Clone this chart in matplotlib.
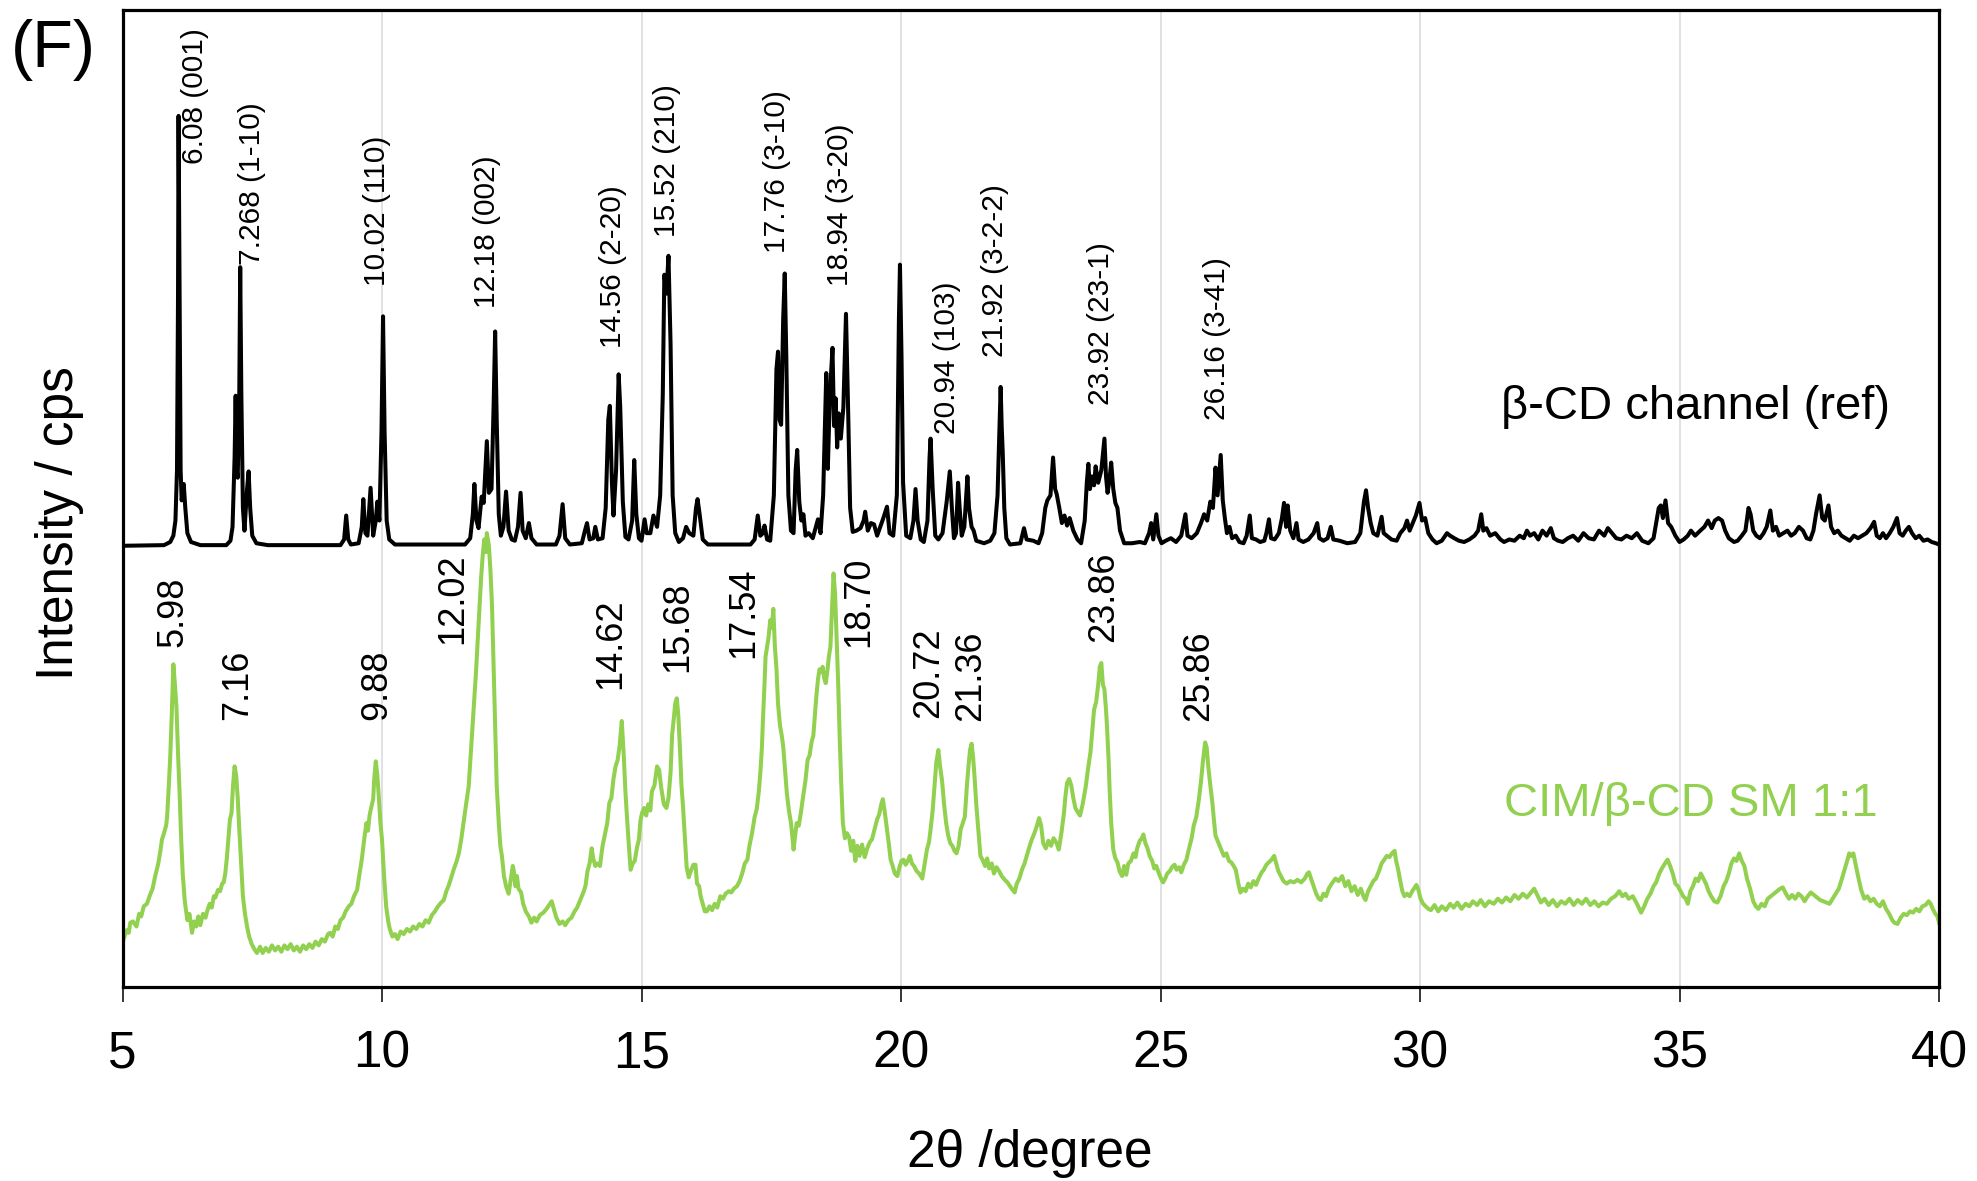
import matplotlib
matplotlib.use("Agg")
import matplotlib.pyplot as plt

plt.rcParams['font.family'] = ['Liberation Sans', 'DejaVu Sans']

# ---------------------------------------------------------------- data
# beta-CD channel reference pattern: (2theta, intensity above its own baseline)
bcd_pattern = [
    (5.00, 0), (5.80, 0.5), (5.92, 3), (5.98, 8), (6.02, 20), (6.05, 60), (6.07, 200),
    (6.08, 341), (6.10, 200), (6.12, 60), (6.14, 36), (6.18, 49), (6.21, 30), (6.25, 10),
    (6.32, 3), (6.50, 0.5), (7.00, 0.5), (7.08, 4), (7.12, 15), (7.16, 70), (7.18, 119),
    (7.20, 60), (7.22, 54), (7.25, 120), (7.268, 221), (7.29, 120), (7.32, 30), (7.35, 12),
    (7.40, 45), (7.43, 59), (7.46, 30), (7.50, 8), (7.58, 2), (7.80, 0.5), (9.20, 0.5),
    (9.27, 5), (9.31, 24), (9.35, 5), (9.40, 1), (9.55, 2), (9.61, 15), (9.64, 37),
    (9.68, 10), (9.72, 8), (9.78, 46), (9.83, 8), (9.88, 20), (9.91, 35), (9.95, 20),
    (9.99, 90), (10.02, 182), (10.05, 90), (10.09, 20), (10.14, 5), (10.25, 1), (11.60, 1),
    (11.70, 6), (11.75, 25), (11.78, 49), (11.82, 20), (11.86, 14), (11.92, 39), (11.96, 34),
    (12.02, 83), (12.06, 42), (12.11, 45), (12.15, 110), (12.18, 170), (12.21, 100),
    (12.25, 25), (12.29, 8), (12.34, 15), (12.39, 43), (12.44, 12), (12.50, 5), (12.56, 4),
    (12.62, 15), (12.67, 42), (12.71, 12), (12.77, 6), (12.83, 18), (12.88, 6), (12.98, 1),
    (13.35, 1), (13.42, 8), (13.48, 33), (13.53, 6), (13.62, 1), (13.85, 2), (13.91, 12),
    (13.95, 18), (14.00, 5), (14.07, 6), (14.11, 15), (14.16, 5), (14.25, 6), (14.31, 30),
    (14.36, 100), (14.39, 111), (14.43, 50), (14.46, 24), (14.51, 60), (14.56, 136),
    (14.59, 110), (14.64, 35), (14.69, 7), (14.75, 5), (14.82, 20), (14.86, 68), (14.90, 25),
    (14.95, 6), (15.00, 4), (15.06, 21), (15.10, 10), (15.17, 10), (15.23, 24), (15.30, 15),
    (15.36, 40), (15.41, 120), (15.44, 215), (15.48, 200), (15.52, 230), (15.56, 160),
    (15.60, 40), (15.65, 10), (15.72, 3), (15.80, 6), (15.86, 15), (15.92, 10), (16.00, 8),
    (16.05, 30), (16.08, 37), (16.12, 25), (16.18, 5), (16.28, 1), (17.10, 1), (17.18, 5),
    (17.24, 24), (17.29, 8), (17.34, 10), (17.37, 16), (17.42, 5), (17.48, 4), (17.55, 40),
    (17.60, 140), (17.63, 154), (17.66, 100), (17.69, 96), (17.73, 180), (17.76, 216),
    (17.79, 150), (17.83, 40), (17.88, 12), (17.93, 10), (17.97, 60), (18.00, 76),
    (18.04, 35), (18.08, 20), (18.12, 25), (18.16, 8), (18.22, 10), (18.30, 6), (18.36, 15),
    (18.40, 21), (18.45, 10), (18.50, 40), (18.56, 137), (18.59, 61), (18.63, 120),
    (18.68, 157), (18.71, 95), (18.74, 117), (18.77, 78), (18.80, 105), (18.84, 85),
    (18.89, 110), (18.94, 184), (18.98, 110), (19.02, 30), (19.07, 11), (19.14, 12),
    (19.22, 14), (19.28, 20), (19.31, 27), (19.36, 12), (19.42, 18), (19.48, 17), (19.54, 8),
    (19.60, 15), (19.66, 22), (19.73, 31), (19.78, 10), (19.85, 8), (19.92, 40),
    (19.96, 180), (19.98, 223), (20.01, 150), (20.04, 50), (20.10, 8), (20.18, 6),
    (20.24, 20), (20.28, 45), (20.32, 20), (20.38, 5), (20.44, 3), (20.51, 20), (20.55, 70),
    (20.57, 85), (20.61, 45), (20.66, 8), (20.72, 5), (20.80, 10), (20.88, 35), (20.94, 59),
    (20.98, 30), (21.02, 6), (21.06, 10), (21.10, 50), (21.13, 30), (21.17, 8), (21.22, 15),
    (21.28, 55), (21.31, 30), (21.36, 15), (21.40, 12), (21.45, 4), (21.60, 2), (21.72, 4),
    (21.80, 10), (21.86, 40), (21.92, 126), (21.94, 95), (21.96, 74), (21.99, 30),
    (22.03, 6), (22.10, 1), (22.30, 2), (22.37, 14), (22.42, 5), (22.55, 4), (22.65, 2),
    (22.72, 10), (22.78, 30), (22.82, 36), (22.88, 40), (22.93, 70), (22.97, 45), (23.00, 41),
    (23.05, 30), (23.10, 18), (23.15, 24), (23.20, 16), (23.25, 22), (23.32, 12), (23.40, 5),
    (23.47, 2), (23.54, 20), (23.58, 50), (23.61, 65), (23.64, 45), (23.68, 55), (23.72, 48),
    (23.75, 63), (23.80, 50), (23.86, 60), (23.92, 85), (23.95, 55), (23.98, 42), (24.01, 50),
    (24.05, 66), (24.09, 45), (24.13, 34), (24.17, 30), (24.22, 12), (24.30, 2), (24.45, 2),
    (24.60, 3), (24.70, 2), (24.78, 10), (24.82, 18), (24.86, 5), (24.92, 25), (24.96, 8),
    (25.02, 2), (25.10, 4), (25.20, 6), (25.30, 3), (25.40, 8), (25.48, 25), (25.52, 8),
    (25.60, 6), (25.70, 10), (25.78, 18), (25.84, 25), (25.90, 20), (25.96, 35), (26.01, 30),
    (26.06, 62), (26.10, 40), (26.16, 72), (26.20, 36), (26.24, 22), (26.28, 10), (26.33, 15),
    (26.38, 6), (26.45, 8), (26.52, 3), (26.60, 2), (26.66, 8), (26.72, 24), (26.76, 6),
    (26.84, 5), (26.92, 3), (27.00, 4), (27.04, 10), (27.09, 21), (27.13, 6), (27.20, 5),
    (27.28, 10), (27.34, 22), (27.38, 34), (27.42, 15), (27.45, 32), (27.50, 12), (27.56, 6),
    (27.62, 18), (27.66, 5), (27.75, 3), (27.85, 5), (27.95, 10), (28.02, 18), (28.06, 6),
    (28.14, 4), (28.22, 6), (28.28, 15), (28.33, 5), (28.45, 4), (28.60, 2), (28.75, 3),
    (28.85, 10), (28.92, 35), (28.96, 44), (29.00, 30), (29.05, 18), (29.10, 10), (29.18, 8),
    (29.26, 23), (29.30, 10), (29.36, 8), (29.45, 5), (29.55, 4), (29.62, 10), (29.70, 14),
    (29.75, 20), (29.80, 12), (29.86, 18), (29.92, 24), (29.99, 34), (30.04, 20), (30.10, 22),
    (30.16, 10), (30.24, 5), (30.32, 2), (30.42, 4), (30.52, 10), (30.58, 8), (30.66, 6),
    (30.75, 4), (30.85, 3), (30.95, 5), (31.05, 8), (31.12, 12), (31.18, 25), (31.22, 12),
    (31.28, 14), (31.35, 8), (31.45, 10), (31.55, 5), (31.62, 3), (31.72, 5), (31.82, 4),
    (31.92, 8), (32.00, 6), (32.06, 12), (32.12, 8), (32.20, 10), (32.28, 5), (32.36, 12),
    (32.44, 8), (32.52, 14), (32.58, 6), (32.66, 4), (32.75, 3), (32.85, 6), (32.95, 8),
    (33.05, 4), (33.15, 10), (33.25, 6), (33.35, 5), (33.45, 12), (33.55, 8), (33.62, 14),
    (33.70, 10), (33.78, 6), (33.88, 5), (33.98, 8), (34.08, 6), (34.18, 10), (34.28, 4),
    (34.40, 2), (34.50, 6), (34.60, 30), (34.64, 32), (34.68, 22), (34.73, 36), (34.78, 18),
    (34.84, 15), (34.92, 8), (35.00, 3), (35.08, 5), (35.16, 8), (35.22, 12), (35.30, 8),
    (35.40, 12), (35.48, 15), (35.55, 20), (35.62, 14), (35.68, 20), (35.75, 22), (35.82, 20),
    (35.88, 12), (35.95, 6), (36.05, 3), (36.12, 4), (36.20, 8), (36.27, 12), (36.33, 30),
    (36.37, 25), (36.42, 12), (36.48, 8), (36.55, 6), (36.62, 10), (36.68, 15), (36.75, 28),
    (36.80, 12), (36.86, 15), (36.92, 8), (37.00, 10), (37.08, 12), (37.15, 8), (37.22, 10),
    (37.30, 15), (37.38, 12), (37.45, 6), (37.52, 5), (37.58, 12), (37.63, 25), (37.70, 40),
    (37.75, 22), (37.80, 20), (37.87, 32), (37.92, 15), (37.98, 10), (38.05, 12), (38.12, 8),
    (38.20, 6), (38.28, 4), (38.36, 8), (38.44, 6), (38.52, 8), (38.60, 10), (38.68, 14),
    (38.75, 19), (38.80, 8), (38.86, 6), (38.92, 10), (38.98, 6), (39.05, 10), (39.12, 15),
    (39.19, 22), (39.24, 10), (39.30, 8), (39.36, 12), (39.42, 15), (39.48, 10), (39.55, 6),
    (39.62, 8), (39.70, 4), (39.78, 5), (39.86, 3), (39.94, 2), (40.00, 1),
]
bcd_offset = 350  # vertical stacking offset of the reference trace

# CIM/beta-CD simple mixture 1:1: (2theta, intensity)
sm_pattern = [
    (5.00, 35), (5.03, 39), (5.08, 45), (5.12, 43), (5.15, 51), (5.20, 52), (5.27, 48),
    (5.32, 58), (5.36, 56), (5.41, 64), (5.47, 66), (5.53, 73), (5.58, 78), (5.63, 88),
    (5.69, 98), (5.73, 108), (5.76, 117), (5.80, 122), (5.84, 128), (5.86, 135), (5.89, 158),
    (5.92, 183), (5.95, 217), (5.98, 256), (6.01, 240), (6.04, 222), (6.07, 185), (6.10, 154),
    (6.13, 118), (6.16, 90), (6.20, 68), (6.25, 53), (6.29, 58), (6.34, 43), (6.38, 52),
    (6.42, 48), (6.46, 56), (6.50, 49), (6.55, 58), (6.60, 55), (6.63, 60), (6.68, 66),
    (6.72, 63), (6.76, 72), (6.79, 71), (6.84, 77), (6.88, 76), (6.92, 82), (6.95, 83),
    (6.98, 90), (7.01, 102), (7.04, 118), (7.07, 133), (7.10, 138), (7.13, 160), (7.16, 175),
    (7.19, 168), (7.22, 150), (7.25, 125), (7.29, 95), (7.32, 72), (7.36, 58), (7.40, 48),
    (7.44, 40), (7.49, 34), (7.54, 30), (7.59, 27), (7.65, 32), (7.70, 27), (7.76, 31),
    (7.82, 28), (7.88, 33), (7.94, 29), (8.00, 32), (8.06, 28), (8.12, 33), (8.18, 30),
    (8.24, 34), (8.30, 29), (8.36, 32), (8.42, 28), (8.48, 33), (8.54, 30), (8.60, 34),
    (8.66, 31), (8.72, 36), (8.78, 33), (8.84, 38), (8.90, 36), (8.96, 42), (9.00, 43),
    (9.05, 40), (9.10, 48), (9.15, 46), (9.20, 53), (9.25, 55), (9.30, 60), (9.36, 64),
    (9.41, 66), (9.46, 72), (9.52, 77), (9.56, 88), (9.61, 101), (9.66, 118), (9.70, 130),
    (9.73, 124), (9.76, 136), (9.79, 142), (9.83, 149), (9.85, 165), (9.88, 179),
    (9.91, 168), (9.94, 150), (9.97, 130), (10.00, 117), (10.04, 88), (10.08, 64),
    (10.12, 52), (10.15, 46), (10.20, 40), (10.25, 42), (10.30, 38), (10.36, 44), (10.42, 42),
    (10.48, 46), (10.54, 44), (10.60, 48), (10.66, 46), (10.72, 50), (10.78, 48), (10.84, 53),
    (10.90, 51), (10.96, 57), (11.02, 60), (11.08, 64), (11.14, 67), (11.19, 69), (11.24, 76),
    (11.28, 80), (11.32, 85), (11.38, 93), (11.44, 100), (11.48, 106), (11.53, 118),
    (11.57, 130), (11.62, 145), (11.67, 159), (11.70, 178), (11.73, 196), (11.77, 222),
    (11.81, 249), (11.85, 280), (11.88, 302), (11.91, 325), (11.94, 342), (11.97, 355),
    (12.00, 345), (12.02, 360), (12.06, 350), (12.09, 330), (12.12, 302), (12.15, 255),
    (12.18, 209), (12.21, 160), (12.25, 130), (12.28, 112), (12.31, 104), (12.35, 88),
    (12.39, 80), (12.44, 74), (12.48, 85), (12.52, 96), (12.54, 92), (12.57, 80), (12.60, 88),
    (12.63, 78), (12.68, 75), (12.72, 66), (12.77, 60), (12.83, 56), (12.88, 51), (12.93, 55),
    (12.98, 52), (13.04, 57), (13.11, 59), (13.17, 62), (13.22, 65), (13.27, 68), (13.31, 62),
    (13.36, 55), (13.42, 50), (13.48, 52), (13.53, 49), (13.59, 53), (13.65, 55), (13.71, 60),
    (13.76, 63), (13.82, 69), (13.88, 75), (13.92, 80), (13.96, 92), (14.00, 98),
    (14.04, 110), (14.07, 102), (14.11, 96), (14.15, 98), (14.20, 96), (14.25, 112),
    (14.30, 122), (14.34, 130), (14.38, 146), (14.42, 150), (14.46, 165), (14.50, 175),
    (14.54, 180), (14.58, 192), (14.62, 211), (14.66, 182), (14.69, 155), (14.72, 135),
    (14.76, 110), (14.79, 93), (14.83, 98), (14.87, 100), (14.91, 110), (14.95, 117),
    (14.98, 132), (15.01, 138), (15.05, 142), (15.09, 136), (15.13, 145), (15.17, 140),
    (15.20, 155), (15.25, 160), (15.30, 175), (15.34, 172), (15.38, 158), (15.43, 145),
    (15.48, 142), (15.52, 150), (15.56, 170), (15.59, 200), (15.62, 212), (15.65, 225),
    (15.68, 229), (15.71, 215), (15.74, 190), (15.77, 160), (15.80, 143), (15.84, 115),
    (15.87, 95), (15.91, 87), (15.95, 92), (16.00, 97), (16.04, 97), (16.07, 82), (16.11, 80),
    (16.14, 72), (16.18, 66), (16.22, 60), (16.26, 60), (16.31, 64), (16.36, 61), (16.41, 66),
    (16.46, 63), (16.52, 72), (16.57, 70), (16.62, 74), (16.68, 76), (16.73, 75), (16.78, 78),
    (16.84, 80), (16.89, 84), (16.94, 90), (16.99, 98), (17.04, 101), (17.08, 112),
    (17.13, 122), (17.18, 135), (17.22, 141), (17.26, 155), (17.29, 170), (17.32, 190),
    (17.34, 212), (17.37, 240), (17.39, 262), (17.42, 270), (17.45, 278), (17.48, 291),
    (17.51, 285), (17.54, 300), (17.57, 270), (17.60, 253), (17.63, 225), (17.67, 207),
    (17.70, 200), (17.73, 191), (17.77, 170), (17.80, 154), (17.84, 140), (17.88, 130),
    (17.91, 118), (17.93, 109), (17.96, 120), (17.99, 130), (18.03, 128), (18.07, 138),
    (18.11, 150), (18.16, 164), (18.20, 180), (18.24, 184), (18.28, 195), (18.31, 199),
    (18.34, 215), (18.37, 231), (18.40, 244), (18.43, 252), (18.46, 250), (18.49, 254),
    (18.52, 245), (18.55, 241), (18.58, 250), (18.61, 262), (18.64, 270), (18.67, 300),
    (18.70, 328), (18.73, 312), (18.76, 275), (18.79, 240), (18.82, 196), (18.85, 160),
    (18.88, 130), (18.92, 118), (18.96, 122), (19.00, 119), (19.04, 108), (19.08, 116),
    (19.12, 100), (19.16, 112), (19.20, 104), (19.25, 113), (19.30, 103), (19.35, 110),
    (19.40, 115), (19.44, 117), (19.49, 125), (19.54, 133), (19.58, 137), (19.62, 145),
    (19.65, 149), (19.69, 138), (19.73, 125), (19.77, 112), (19.80, 101), (19.84, 96),
    (19.88, 90), (19.93, 88), (19.97, 95), (20.01, 100), (20.05, 101), (20.09, 97),
    (20.13, 100), (20.17, 104), (20.21, 98), (20.25, 96), (20.30, 92), (20.35, 90),
    (20.41, 86), (20.45, 96), (20.50, 109), (20.54, 115), (20.57, 125), (20.61, 140),
    (20.65, 162), (20.68, 178), (20.72, 188), (20.75, 176), (20.79, 164), (20.83, 145),
    (20.87, 130), (20.91, 120), (20.95, 114), (20.99, 112), (21.03, 108), (21.07, 106),
    (21.11, 112), (21.15, 125), (21.19, 130), (21.23, 135), (21.27, 160), (21.30, 175),
    (21.33, 188), (21.36, 193), (21.39, 182), (21.42, 165), (21.45, 145), (21.49, 125),
    (21.53, 104), (21.57, 101), (21.62, 96), (21.66, 102), (21.70, 94), (21.75, 98),
    (21.79, 90), (21.84, 95), (21.89, 92), (21.94, 88), (22.00, 85), (22.05, 83), (22.10, 80),
    (22.15, 77), (22.19, 75), (22.23, 82), (22.28, 86), (22.33, 93), (22.38, 98), (22.43, 105),
    (22.48, 112), (22.52, 117), (22.57, 122), (22.62, 128), (22.66, 134), (22.70, 128),
    (22.74, 114), (22.79, 110), (22.84, 116), (22.89, 112), (22.94, 118), (23.00, 114),
    (23.04, 109), (23.09, 122), (23.14, 138), (23.17, 152), (23.20, 162), (23.24, 165),
    (23.28, 160), (23.32, 150), (23.36, 142), (23.40, 139), (23.45, 136), (23.50, 145),
    (23.56, 159), (23.60, 172), (23.65, 186), (23.69, 205), (23.72, 220), (23.76, 226),
    (23.80, 240), (23.83, 254), (23.86, 257), (23.89, 240), (23.92, 236), (23.95, 220),
    (23.97, 206), (24.00, 180), (24.02, 156), (24.05, 130), (24.09, 109), (24.13, 102),
    (24.17, 99), (24.21, 92), (24.26, 88), (24.30, 96), (24.34, 89), (24.38, 98),
    (24.43, 100), (24.48, 106), (24.52, 103), (24.55, 110), (24.60, 116), (24.64, 118),
    (24.67, 121), (24.71, 114), (24.75, 110), (24.79, 104), (24.84, 100), (24.88, 94),
    (24.92, 96), (24.97, 90), (25.01, 86), (25.05, 83), (25.09, 86), (25.13, 90), (25.18, 92),
    (25.22, 95), (25.27, 97), (25.31, 93), (25.36, 95), (25.40, 91), (25.45, 97), (25.50, 101),
    (25.55, 110), (25.60, 118), (25.64, 128), (25.69, 135), (25.74, 149), (25.78, 163),
    (25.82, 180), (25.86, 194), (25.89, 190), (25.92, 175), (25.96, 160), (26.00, 146),
    (26.03, 132), (26.06, 120), (26.10, 116), (26.14, 112), (26.18, 108), (26.22, 104),
    (26.27, 106), (26.32, 100), (26.36, 99), (26.41, 96), (26.45, 93), (26.50, 82),
    (26.54, 75), (26.59, 78), (26.64, 76), (26.69, 82), (26.74, 79), (26.79, 84), (26.84, 81),
    (26.90, 87), (26.95, 91), (26.99, 93), (27.04, 97), (27.09, 99), (27.14, 101),
    (27.19, 104), (27.23, 98), (27.27, 92), (27.32, 88), (27.37, 84), (27.43, 82), (27.50, 84),
    (27.57, 83), (27.64, 85), (27.71, 83), (27.78, 86), (27.83, 90), (27.86, 91), (27.90, 86),
    (27.95, 80), (28.00, 74), (28.05, 70), (28.09, 69), (28.14, 74), (28.19, 72), (28.24, 78),
    (28.30, 82), (28.37, 86), (28.43, 84), (28.50, 88), (28.56, 80), (28.62, 84), (28.68, 76),
    (28.74, 80), (28.80, 73), (28.86, 78), (28.91, 72), (28.95, 69), (29.00, 76), (29.05, 80),
    (29.10, 84), (29.15, 86), (29.21, 92), (29.26, 98), (29.31, 101), (29.36, 104),
    (29.41, 103), (29.46, 106), (29.51, 108), (29.54, 100), (29.58, 93), (29.62, 84),
    (29.66, 76), (29.70, 72), (29.75, 74), (29.80, 72), (29.85, 76), (29.90, 79), (29.93, 81),
    (29.97, 77), (30.01, 70), (30.06, 66), (30.11, 64), (30.16, 62), (30.21, 61), (30.28, 65),
    (30.35, 60), (30.42, 64), (30.50, 61), (30.58, 66), (30.65, 63), (30.72, 67), (30.80, 62),
    (30.88, 66), (30.95, 64), (31.02, 68), (31.10, 65), (31.17, 69), (31.25, 64), (31.33, 68),
    (31.42, 66), (31.50, 70), (31.58, 67), (31.66, 71), (31.74, 68), (31.82, 73), (31.90, 70),
    (31.98, 74), (32.06, 71), (32.14, 75), (32.20, 78), (32.26, 73), (32.33, 67), (32.40, 70),
    (32.48, 65), (32.56, 69), (32.64, 64), (32.72, 68), (32.80, 66), (32.88, 70), (32.96, 65),
    (33.04, 69), (33.12, 66), (33.20, 70), (33.28, 65), (33.36, 68), (33.44, 64), (33.52, 67),
    (33.60, 66), (33.68, 70), (33.76, 72), (33.84, 76), (33.90, 72), (33.96, 74), (34.02, 70),
    (34.10, 72), (34.18, 66), (34.26, 59), (34.32, 64), (34.38, 70), (34.44, 74), (34.50, 80),
    (34.55, 83), (34.61, 90), (34.66, 94), (34.72, 98), (34.77, 101), (34.82, 96),
    (34.87, 90), (34.92, 82), (34.97, 80), (35.02, 76), (35.07, 72), (35.12, 70), (35.16, 66),
    (35.21, 76), (35.26, 80), (35.31, 86), (35.36, 84), (35.41, 90), (35.46, 86), (35.51, 82),
    (35.56, 76), (35.61, 72), (35.67, 68), (35.73, 67), (35.79, 72), (35.85, 80), (35.90, 84),
    (35.95, 90), (36.00, 98), (36.05, 102), (36.10, 100), (36.15, 106), (36.20, 100),
    (36.25, 96), (36.30, 86), (36.36, 78), (36.42, 68), (36.47, 64), (36.52, 62), (36.58, 66),
    (36.64, 64), (36.70, 70), (36.76, 72), (36.82, 74), (36.88, 76), (36.94, 78), (36.99, 79),
    (37.05, 74), (37.11, 70), (37.17, 73), (37.23, 70), (37.29, 74), (37.35, 72), (37.41, 68),
    (37.47, 72), (37.53, 75), (37.59, 73), (37.65, 71), (37.71, 69), (37.77, 68), (37.83, 67),
    (37.89, 66), (37.95, 70), (38.01, 74), (38.07, 78), (38.13, 86), (38.18, 93),
    (38.23, 100), (38.27, 106), (38.31, 104), (38.35, 106), (38.39, 98), (38.44, 88),
    (38.50, 77), (38.56, 70), (38.62, 72), (38.68, 68), (38.74, 70), (38.80, 66), (38.86, 64),
    (38.92, 68), (38.98, 62), (39.04, 58), (39.10, 53), (39.14, 51), (39.20, 50), (39.26, 55),
    (39.32, 58), (39.38, 57), (39.44, 60), (39.50, 59), (39.56, 62), (39.62, 60), (39.68, 64),
    (39.74, 65), (39.80, 68), (39.84, 66), (39.88, 62), (39.93, 58), (39.97, 56), (40.00, 51),
]

# indexed reflections of the reference (2theta and hkl)
bcd_peak_labels = ["6.08 (001)", "7.268 (1-10)", "10.02 (110)", "12.18 (002)",
                   "14.56 (2-20)", "15.52 (210)", "17.76 (3-10)", "18.94 (3-20)",
                   "20.94 (103)", "21.92 (3-2-2)", "23.92 (23-1)", "26.16 (3-41)"]
# peak positions observed in the mixture
sm_peak_labels = ["5.98", "7.16", "9.88", "12.02", "14.62", "15.68", "17.54",
                  "18.70", "20.72", "21.36", "23.86", "25.86"]

x_ticks = [5, 10, 15, 20, 25, 30, 35, 40]

# ---------------------------------------------------------------- layout
# anchor (2theta, bottom of the rotated label) for each annotation
bcd_label_anchor = [(6.40, 653), (7.49, 573), (9.90, 556), (12.02, 539),
                    (14.46, 507), (15.49, 595), (17.61, 582), (18.83, 556),
                    (20.89, 439), (21.81, 500), (23.85, 462), (26.09, 450)]
sm_label_anchor = [(5.98, 270), (7.22, 212), (9.90, 212), (11.37, 272),
                   (14.40, 236), (15.69, 250), (16.97, 261), (19.19, 270),
                   (20.54, 213), (21.34, 211), (23.91, 274), (25.74, 211)]

GREEN = "#92D050"
W, H = 1977, 1181

fig = plt.figure(figsize=(W / 100, H / 100), dpi=100)
ax = fig.add_axes([122.5 / W, 1 - 987 / H, (1939 - 122.5) / W, (987 - 10) / H])

bx = [p[0] for p in bcd_pattern]
by = [p[1] + bcd_offset for p in bcd_pattern]
gx = [p[0] for p in sm_pattern]
gy = [p[1] for p in sm_pattern]

ax.plot(bx, by, color="black", lw=2.9, zorder=3, solid_joinstyle="round")
ax.plot(gx, gy, color=GREEN, lw=2.9, zorder=2, solid_joinstyle="round")

ax.set_xlim(5, 40)
ax.set_ylim(0, 775)
ax.set_xticks(x_ticks)
ax.set_xticklabels([str(t) for t in x_ticks])
ax.set_yticks([])
ax.tick_params(axis="x", direction="out", length=10.8, width=1.1, pad=19.5,
               labelsize=37, colors="black")
ax.grid(axis="x", color="#D9D9D9", lw=1.1, zorder=0)
ax.set_axisbelow(True)
for s in ax.spines.values():
    s.set_linewidth(2.3)
    s.set_color("black")

for txt, (xa, ya) in zip(bcd_peak_labels, bcd_label_anchor):
    ax.text(xa, ya, txt, rotation=90, ha="center", va="bottom", fontsize=21.5,
            color="black", zorder=4)
for txt, (xa, ya) in zip(sm_peak_labels, sm_label_anchor):
    ax.text(xa, ya, txt, rotation=90, ha="center", va="bottom", fontsize=26,
            color="black", zorder=4)

ax.text(39.05, 460, "β-CD channel (ref)", ha="right", va="center", fontsize=34,
        color="black")
ax.text(38.82, 145, "CIM/β-CD SM 1:1", ha="right", va="center", fontsize=34,
        color=GREEN)

fig.text(1030 / W, 1 - 1167 / H, "2θ /degree", ha="center", va="baseline",
         fontsize=37)
fig.text(60 / W, 1 - 523 / H, "Intensity / cps", rotation=90, ha="center",
         va="center", fontsize=37)
fig.text(11 / W, 1 - 50 / H, "(F)", ha="left", va="center", fontsize=48)

fig.savefig("out.png", dpi=100)
